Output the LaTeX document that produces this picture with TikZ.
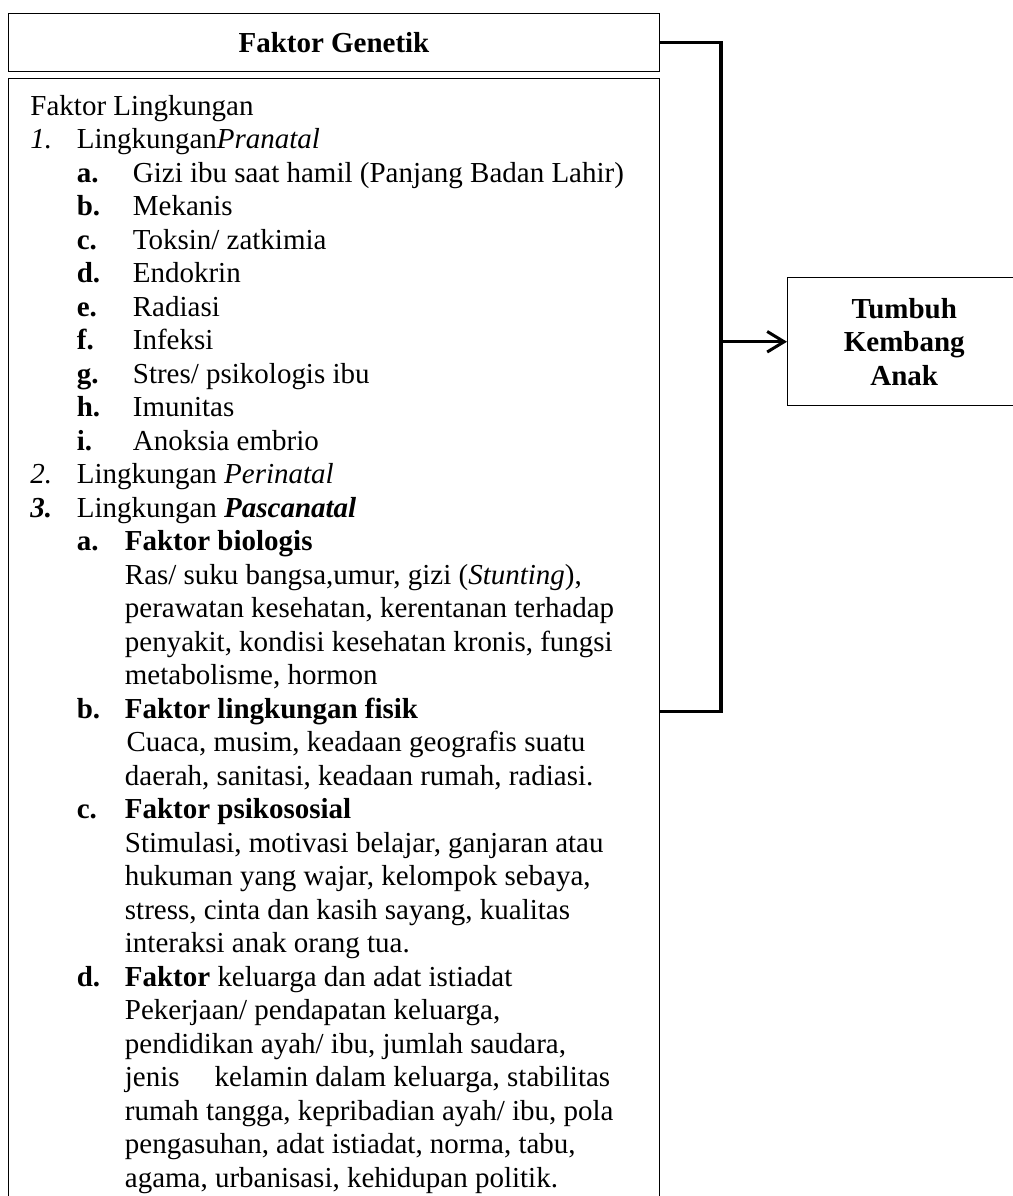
\documentclass[tikz,border=0pt]{standalone}
\usepackage{fontspec}
\setmainfont{Liberation Serif}
\usetikzlibrary{arrows.meta}

\begin{document}
\begin{tikzpicture}[
    x=0.414pt, y=-0.414pt,
    tkBox/.style={draw, line width=0.6pt, inner sep=0pt, font=\fontsize{12}{13.87}\selectfont},
    tkText/.style={inner sep=0pt, font=\fontsize{12}{13.87}\selectfont},
    tkLink/.style={line width=1.25pt},
    tkArrow/.style={tkLink, -{Straight Barb[length=7pt, width=8.5pt]}}
]
\useasboundingbox (0,0) rectangle (1013,1196);
% kotak
\node[tkBox, anchor=north west, minimum width=269.7pt, minimum height=24pt] (genetik) at (7.5,13) {\textbf{Faktor Genetik}};
\node[tkBox, anchor=north west, minimum width=269.7pt, minimum height=475pt] (lingkungan) at (7.5,78) {};
\node[tkBox, anchor=north west, minimum width=96.5pt, minimum height=53pt, align=center] (tumbuh) at (787,277) {\textbf{Tumbuh}\\\textbf{Kembang}\\\textbf{Anak}};
% isi faktor lingkungan
\node[tkText, anchor=base west] (daftar) at (30,115) {%
\begin{tabular}[t]{@{}p{19.2pt}@{}p{19.9pt}@{}l@{}}
\multicolumn{3}{@{}l@{}}{Faktor Lingkungan}\\
\textit{1.} & \multicolumn{2}{@{}l@{}}{Lingkungan\textit{Pranatal}}\\
 & \textbf{a.} & \hspace{3.3pt}Gizi ibu saat hamil (Panjang Badan Lahir)\\
 & \textbf{b.} & \hspace{3.3pt}Mekanis\\
 & \textbf{c.} & \hspace{3.3pt}Toksin/ zatkimia\\
 & \textbf{d.} & \hspace{3.3pt}Endokrin\\
 & \textbf{e.} & \hspace{3.3pt}Radiasi\\
 & \textbf{f.} & \hspace{3.3pt}Infeksi\\
 & \textbf{g.} & \hspace{3.3pt}Stres/ psikologis ibu\\
 & \textbf{h.} & \hspace{3.3pt}Imunitas\\
 & \textbf{i.} & \hspace{3.3pt}Anoksia embrio\\
\textit{2.} & \multicolumn{2}{@{}l@{}}{Lingkungan \textit{Perinatal}}\\
\textbf{\textit{3.}} & \multicolumn{2}{@{}l@{}}{Lingkungan \textbf{\textit{Pascanatal}}}\\
 & \textbf{a.} & \textbf{Faktor biologis}\\
 & & Ras/ suku bangsa,umur, gizi (\textit{Stunting}),\\
 & & perawatan kesehatan, kerentanan terhadap\\
 & & penyakit, kondisi kesehatan kronis, fungsi\\
 & & metabolisme, hormon\\
 & \textbf{b.} & \textbf{Faktor lingkungan fisik}\\
 & & \hspace{0.7pt}Cuaca, musim, keadaan geografis suatu\\
 & & daerah, sanitasi, keadaan rumah, radiasi.\\
 & \textbf{c.} & \textbf{Faktor psikososial}\\
 & & Stimulasi, motivasi belajar, ganjaran atau\\
 & & hukuman yang wajar, kelompok sebaya,\\
 & & stress, cinta dan kasih sayang, kualitas\\
 & & interaksi anak orang tua.\\
 & \textbf{d.} & \textbf{Faktor} keluarga dan adat istiadat\\
 & & Pekerjaan/ pendapatan keluarga,\\
 & & pendidikan ayah/ ibu, jumlah saudara,\\
 & & jenis\hspace{14.5pt}kelamin dalam keluarga, stabilitas\\
 & & rumah tangga, kepribadian ayah/ ibu, pola\\
 & & pengasuhan, adat istiadat, norma, tabu,\\
 & & agama, urbanisasi, kehidupan politik.\\
\end{tabular}};
% penghubung
\coordinate (siku) at (721,711);
\draw[tkLink] (genetik.east) -| (siku) -- (siku -| lingkungan.east);
\draw[tkArrow] (siku |- tumbuh.west) -- (tumbuh.west);
\end{tikzpicture}
\end{document}
